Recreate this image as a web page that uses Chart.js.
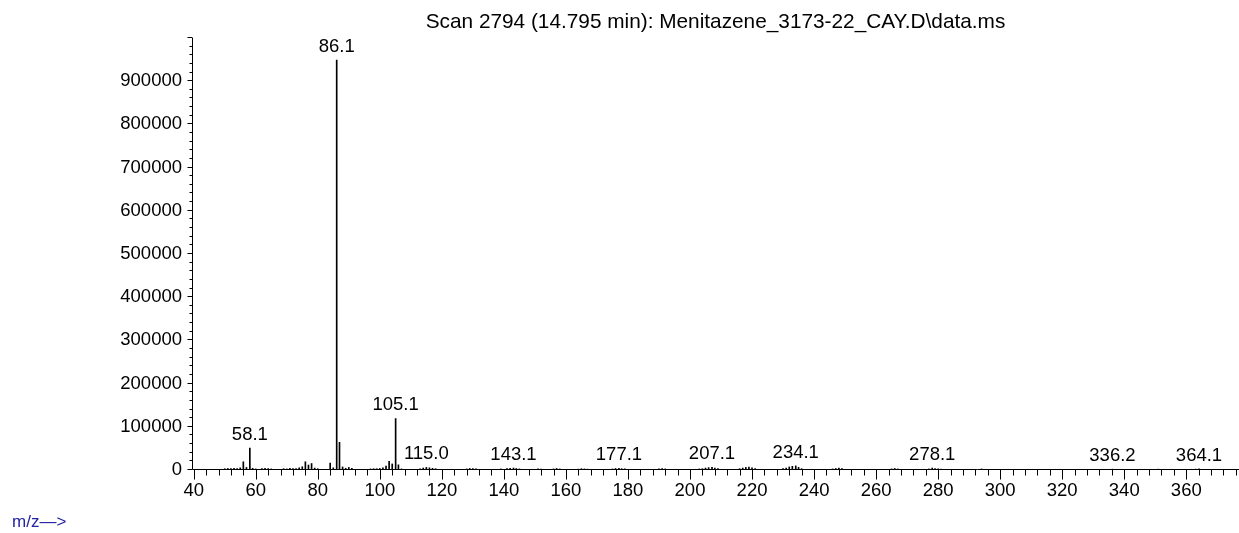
<!DOCTYPE html>
<html lang="en">
<head>
<meta charset="UTF-8">
<title>Scan 2794 (14.795 min)</title>
<script src="https://cdn.jsdelivr.net/npm/chart.js"></script>
<style>
    body {
        margin: 0;
        background: #fff;
    }
    #wrap {
        width: 1239px;
        height: 533px;
    }
</style>
</head>
<body>
<div id="wrap"><canvas id="spectrum" width="1239" height="533"></canvas></div>
<script>
    // data
    const titleText = 'Scan 2794 (14.795 min): Menitazene_3173-22_CAY.D\\data.ms';
    const axisNote = 'm/z\u2014>';

    const mzValues = [
        50, 51, 52, 53, 54, 55, 56, 57, 58.1, 59, 60,
        62, 63, 64, 65,
        69, 70, 71, 72, 73, 74, 75, 76, 77, 78, 79, 80,
        84, 85, 86.1, 87, 88, 89, 90, 91,
        97, 98, 99, 100, 101, 102, 103, 104, 105.1, 106, 107,
        113, 114, 115.0, 116, 117, 118,
        128, 129, 130, 131,
        139, 141, 142, 143.1, 144, 145,
        151, 152, 156, 157, 158,
        164, 165, 166, 167,
        175, 176, 177.1, 178, 179,
        190, 191, 192,
        203, 204, 205, 206, 207.1, 208, 209,
        216, 217, 218, 219, 220, 221,
        230, 231, 232, 233, 234.1, 235, 236,
        246, 247, 248, 249,
        265, 266, 267,
        277, 278.1, 279, 280, 281,
        294,
        336.2, 351, 363, 364.1
    ];
    const abundance = [
        3000, 3500, 3000, 4000, 3500, 5000, 19000, 6000, 51000, 4000, 2500,
        3000, 4000, 3000, 2500,
        3000, 2500, 4000, 3000, 3500, 5000, 7500, 19000, 11500, 15000, 4500, 3000,
        16000, 5000, 949000, 64000, 7000, 4000, 6000, 4000,
        2500, 3000, 3000, 3500, 5000, 9000, 20000, 14000, 119000, 12000, 2500,
        2500, 4500, 6000, 5000, 4000, 3000,
        2500, 3500, 3000, 2500,
        2500, 3000, 4000, 4500, 3500, 2500,
        2500, 2000, 2500, 3500, 2500,
        2000, 3000, 2500, 2000,
        2500, 3500, 4000, 3000, 2500,
        2500, 3500, 2500,
        2500, 3000, 4500, 5500, 6000, 4500, 3000,
        3000, 4500, 6000, 7000, 5000, 3000,
        3500, 4500, 7000, 8500, 9500, 6000, 3000,
        2500, 3500, 4500, 3000,
        2500, 3500, 2500,
        2500, 4500, 3000, 2500, 2000,
        2500,
        2000, 2000, 2000, 2500
    ];
    const peakLabels = ['58.1', '86.1', '105.1', '115.0', '143.1', '177.1', '207.1', '234.1', '278.1', '336.2', '364.1'];

    const FONT_FAMILY = '"Liberation Sans", Arial, sans-serif';
    const tickFont = { family: FONT_FAMILY, size: 18.5 };

    // axis lines + major/minor ticks, drawn off the scales
    const axisTicks = {
        id: 'axisTicks',
        afterDraw(chart) {
            const { ctx, chartArea, scales } = chart;
            const x = scales.x, y = scales.y;
            const left = Math.round(chartArea.left) + 0.5;
            const bottom = Math.round(chartArea.bottom) - 0.5;
            ctx.save();
            ctx.strokeStyle = '#000';
            ctx.lineWidth = 1;
            ctx.beginPath();
            ctx.moveTo(left, Math.round(chartArea.top));
            ctx.lineTo(left, bottom);
            ctx.moveTo(left, bottom);
            ctx.lineTo(chartArea.right, bottom);
            for (let v = 0; v <= y.max; v += 20000) {
                const py = Math.round(y.getPixelForValue(v)) - 0.5;
                const len = v % 100000 === 0 ? 5 : 3;
                ctx.moveTo(left - len, py);
                ctx.lineTo(left, py);
            }
            for (let v = 40; v <= x.max; v += 4) {
                const px = Math.round(x.getPixelForValue(v)) + 0.5;
                const len = v % 20 === 0 ? 10 : 6;
                ctx.moveTo(px, bottom);
                ctx.lineTo(px, bottom + len);
            }
            ctx.stroke();

            ctx.fillStyle = '#2323a3';
            ctx.font = '17px ' + FONT_FAMILY;
            ctx.textAlign = 'left';
            ctx.textBaseline = 'middle';
            ctx.fillText(axisNote, 12, 522);
            ctx.restore();
        }
    };

    // m/z labels above the main peaks
    const peakLabelPlugin = {
        id: 'peakLabelPlugin',
        afterDatasetsDraw(chart) {
            const { ctx, scales } = chart;
            ctx.save();
            ctx.fillStyle = '#000';
            ctx.font = tickFont.size + 'px ' + FONT_FAMILY;
            ctx.textAlign = 'center';
            ctx.textBaseline = 'bottom';
            peakLabels.forEach(label => {
                const m = parseFloat(label);
                const i = mzValues.indexOf(m);
                if (i < 0) return;
                const px = scales.x.getPixelForValue(m);
                const py = scales.y.getPixelForValue(abundance[i]);
                ctx.fillText(label, px, py - 4);
            });
            ctx.restore();
        }
    };

    new Chart(document.getElementById('spectrum'), {
        type: 'bar',
        data: {
            datasets: [{
                data: mzValues.map((m, i) => ({ x: m, y: abundance[i] })),
                backgroundColor: '#000',
                borderWidth: 0,
                barThickness: 1
            }]
        },
        options: {
            responsive: false,
            animation: false,
            layout: { padding: { left: 0, right: 0, top: 0, bottom: 0 } },
            plugins: {
                legend: { display: false },
                tooltip: { enabled: false },
                title: {
                    display: true,
                    text: titleText,
                    fullSize: false,
                    color: '#000',
                    font: { family: FONT_FAMILY, size: 20.8, weight: 'normal', lineHeight: 1.2 },
                    padding: { top: 10, bottom: 3 }
                }
            },
            scales: {
                x: {
                    type: 'linear',
                    min: 39.45,
                    max: 377,
                    offset: false,
                    grid: { display: false, drawTicks: false },
                    border: { display: false },
                    ticks: {
                        stepSize: 20,
                        includeBounds: false,
                        autoSkip: false,
                        maxRotation: 0,
                        color: '#000',
                        font: tickFont,
                        padding: 10
                    },
                    afterFit: s => { s.height = 63; }
                },
                y: {
                    min: 0,
                    max: 1000000,
                    grid: { display: false, drawTicks: false },
                    border: { display: false },
                    ticks: {
                        stepSize: 100000,
                        color: '#000',
                        font: tickFont,
                        padding: 10,
                        callback: v => v >= 1000000 ? '' : String(v)
                    },
                    afterFit: s => { s.width = 192; }
                }
            }
        },
        plugins: [axisTicks, peakLabelPlugin]
    });
</script>
</body>
</html>
